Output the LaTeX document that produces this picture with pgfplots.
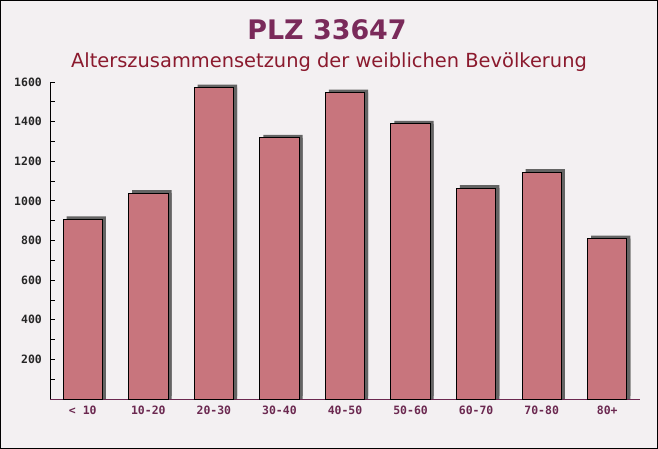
\documentclass[border=0pt]{standalone}
\usepackage{pgfplots}
\pgfplotsset{compat=1.18}
\usepackage{fontspec}
\setmainfont{DejaVu Sans}
\newfontfamily\monofont{DejaVu Sans Mono}
\definecolor{bg}{RGB}{243,240,242}
\definecolor{titlecol}{RGB}{122,42,90}
\definecolor{subcol}{RGB}{139,26,46}
\definecolor{xlab}{RGB}{107,40,80}
\definecolor{barcol}{RGB}{200,117,125}
\definecolor{shadowcol}{RGB}{100,100,100}
\begin{document}
\begin{tikzpicture}[x=1bp,y=1bp]
\fill[bg] (0,0) rectangle (658,449);
\draw[black, line width=1bp] (0.5,0.5) rectangle (657.5,448.5);
\node[font=\fontsize{27}{30}\selectfont\bfseries, text=titlecol] at (327,419) {PLZ 33647};
\node[font=\fontsize{19.5}{22}\selectfont, text=subcol] at (329,387) {Alterszusammensetzung der weiblichen Bevölkerung};
\begin{axis}[
  at={(50bp,50bp)}, anchor=south west,
  scale only axis, width=590bp, height=317bp,
  xmin=-0.5, xmax=8.5, ymin=0, ymax=1600,
  clip=false,
  axis x line*=bottom, axis y line*=left,
  x axis line style={draw=xlab, -},
  y axis line style={draw=black, -},
  xtick={0,...,8},
  xticklabels={< 10,10-20,20-30,30-40,40-50,50-60,60-70,70-80,80+},
  extra x ticks={-0.5,0.5,1.5,2.5,3.5,4.5,5.5,6.5,7.5,8.5},
  extra x tick labels={},
  extra x tick style={major tick length=4bp, tick style={draw=xlab}},
  major x tick style={draw=none},
  ytick={200,400,...,1600},
  minor ytick={100,300,...,1500},
  tick align=inside,
  major tick length=5bp, minor tick length=5bp,
  y tick style={draw=black, line width=0.8bp},
  yticklabel style={font=\monofont\bfseries\fontsize{11.5}{12}\selectfont, text=black!85, anchor=east, inner sep=0pt, xshift=-8bp},
  xticklabel style={font=\monofont\bfseries\fontsize{11.5}{12}\selectfont, text=xlab, anchor=north, inner sep=0pt, yshift=-7bp},
  /pgf/number format/assume math mode=true,
  yticklabel={\pgfmathprintnumber[1000 sep={}]{\tick}},
]
\addplot[ybar, bar width=0.6, fill=barcol, draw=black, line width=0.9bp,
  preaction={fill=shadowcol, draw=none, transform canvas={shift={(3.5bp,0bp)}}},
  preaction={fill=shadowcol, draw=none, transform canvas={shift={(3.5bp,3bp)}}}]
  coordinates {(0,907) (1,1039) (2,1572) (3,1318) (4,1546) (5,1389) (6,1064) (7,1145) (8,810)};
\end{axis}
\end{tikzpicture}
\end{document}
